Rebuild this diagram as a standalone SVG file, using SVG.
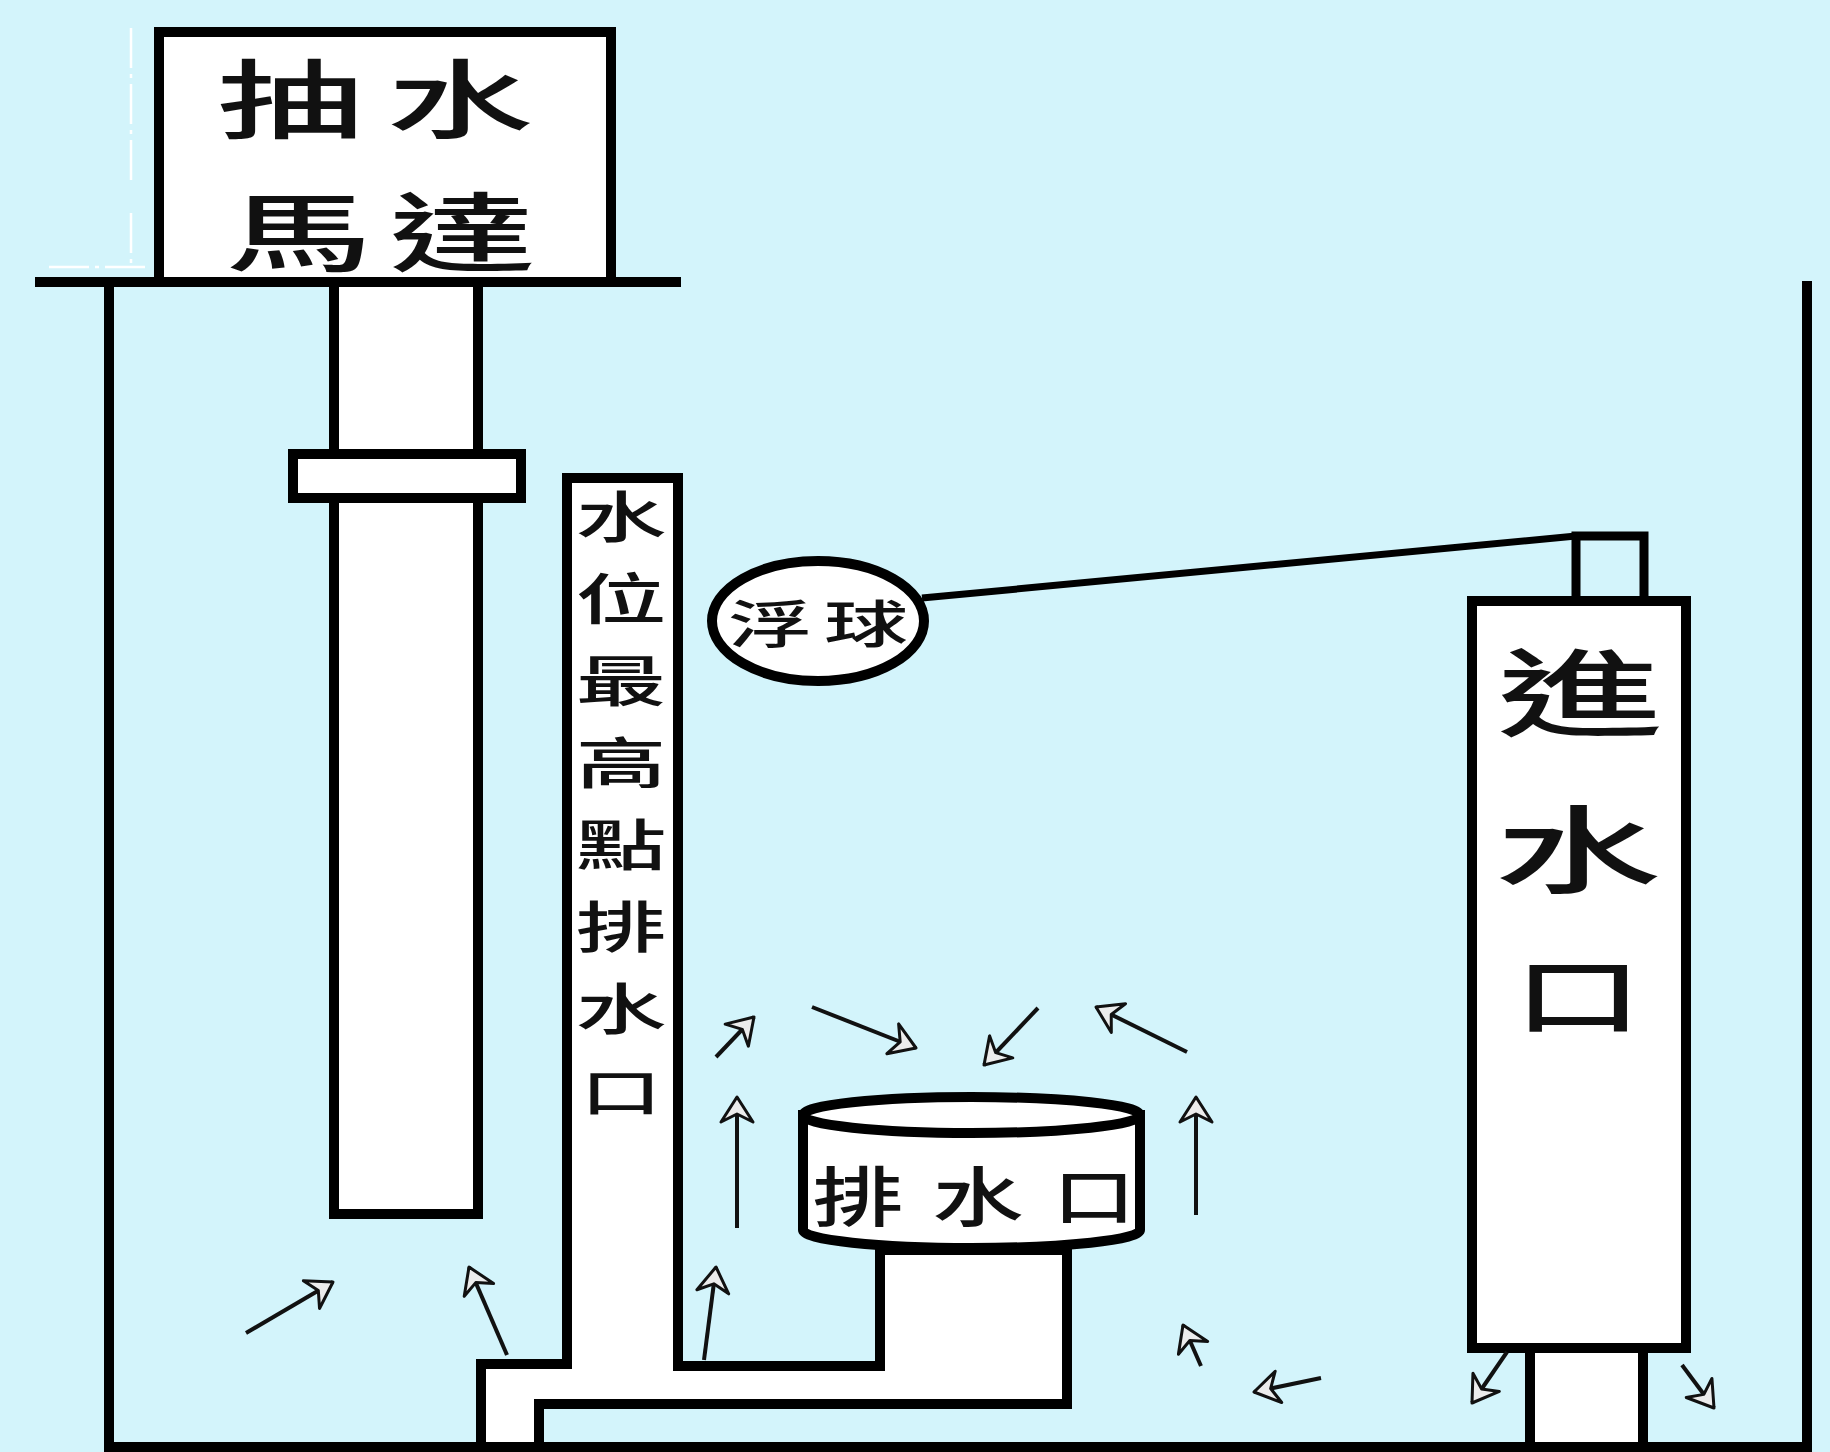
<svg xmlns="http://www.w3.org/2000/svg" width="1830" height="1452" viewBox="0 0 1830 1452">
  <style>
    .wall { fill: none; stroke: #000; stroke-width: 10; stroke-linecap: square; }
    .part { fill: #fff; stroke: #000; stroke-width: 10; stroke-linejoin: miter; }
    .thin { fill: none; stroke: #000; stroke-width: 9; }
    .lbl { font-family: "Noto Sans CJK TC", "Noto Sans CJK SC", sans-serif; font-weight: 500; fill: #111; text-anchor: middle; dominant-baseline: central; }
    .flow { fill: none; stroke: #111; stroke-width: 4; marker-end: url(#head); }
    .ghost { fill: none; stroke: #fff; stroke-width: 2.5; stroke-dasharray: 40 6 4 6; }
  </style>
  <defs>
    <marker id="head" viewBox="-30 -20 33 40" refX="0" refY="0" markerWidth="33" markerHeight="40" orient="auto" markerUnits="userSpaceOnUse">
      <path d="M0,0 L-25,-16 L-17,0 L-25,16 Z" fill="#ececec" stroke="#111" stroke-width="3" stroke-linejoin="round"/>
    </marker>
  </defs>

  <!-- water background -->
  <rect x="0" y="0" width="1830" height="1452" fill="#d3f4fb"/>

  <!-- faint leftover outline beside the motor -->
  <g id="ghost-lines">
    <path class="ghost" d="M131,28 V183 M131,213 V267 M49,267 H147"/>
  </g>

  <!-- tank walls -->
  <g id="tank">
    <path class="wall" d="M109,282 V1447 H1807 V286"/>
  </g>

  <!-- pump suction pipe -->
  <g id="pump-pipe">
    <rect class="part" x="334" y="280" width="144" height="934"/>
  </g>
  <g id="collar">
    <rect class="part" x="293" y="454" width="228" height="44" stroke-width="9"/>
  </g>

  <!-- pump motor on the lid -->
  <g id="motor">
    <rect class="part" x="159" y="32" width="452" height="250" stroke-width="9"/>
    <text class="lbl" font-size="86" transform="translate(290,95) scale(1.7,1)">抽</text>
    <text class="lbl" font-size="86" transform="translate(460,95) scale(1.7,1)">水</text>
    <text class="lbl" font-size="86" transform="translate(299,228) scale(1.7,1)">馬</text>
    <text class="lbl" font-size="86" transform="translate(462,228) scale(1.7,1)">達</text>
  </g>
  <g id="lid">
    <line class="wall" x1="40" y1="282" x2="676" y2="282" stroke-linecap="butt"/>
  </g>

  <!-- overflow pipe and outlet channel -->
  <g id="overflow-pipe">
    <polygon class="part" points="567,478 678,478 678,1366 880,1366 880,1250 1067,1250 1067,1404 539,1404 539,1447 481,1447 481,1364 567,1364"/>
    <text class="lbl" font-size="55" transform="translate(621,513) scale(1.65,1)">水</text>
    <text class="lbl" font-size="55" transform="translate(621,595) scale(1.65,1)">位</text>
    <text class="lbl" font-size="55" transform="translate(621,677) scale(1.65,1)">最</text>
    <text class="lbl" font-size="55" transform="translate(621,759) scale(1.65,1)">高</text>
    <text class="lbl" font-size="55" transform="translate(621,841) scale(1.65,1)">點</text>
    <text class="lbl" font-size="55" transform="translate(621,923) scale(1.65,1)">排</text>
    <text class="lbl" font-size="55" transform="translate(621,1005) scale(1.65,1)">水</text>
    <text class="lbl" font-size="50" transform="translate(621,1089) scale(1.6,1)">口</text>
  </g>

  <!-- drain cylinder -->
  <g id="drain">
    <path class="part" stroke-width="8" d="M803,1115 V1230 A168.5,18 0 0 0 1140,1230 V1115 Z"/>
    <ellipse class="part" stroke-width="8" cx="971.5" cy="1115" rx="168.5" ry="18"/>
    <text class="lbl" font-size="65" transform="translate(858,1193) scale(1.4,1)">排</text>
    <text class="lbl" font-size="65" transform="translate(978,1193) scale(1.4,1)">水</text>
    <text class="lbl" font-size="60" transform="translate(1094,1193) scale(1.35,1)">口</text>
  </g>

  <!-- inlet valve -->
  <g id="inlet">
    <rect class="part" x="1530" y="1348" width="113" height="99"/>
    <rect class="part" x="1472" y="601" width="214" height="747" stroke-width="11"/>
    <rect class="thin" x="1576" y="536" width="68" height="65" stroke-width="10"/>
    <text class="lbl" font-size="95" transform="translate(1580,688) scale(1.75,1)">進</text>
    <text class="lbl" font-size="95" transform="translate(1578,845) scale(1.75,1)">水</text>
    <text class="lbl" font-size="82" transform="translate(1578,990) scale(1.55,1)">口</text>
  </g>

  <!-- float ball -->
  <g id="float">
    <ellipse class="part" stroke-width="8" cx="818" cy="621" rx="106" ry="60"/>
    <text class="lbl" font-size="51" transform="translate(770,621) scale(1.65,1)">浮</text>
    <text class="lbl" font-size="51" transform="translate(866,621) scale(1.65,1)">球</text>
  </g>

  <!-- float arm and water-flow arrows -->
  <g id="connectors">
    <line x1="922" y1="598" x2="1576" y2="536" stroke="#000" stroke-width="7"/>
    <path class="flow" d="M716,1057 L754,1017"/>
    <path class="flow" d="M812,1007 L916,1048"/>
    <path class="flow" d="M1038,1008 L984,1065"/>
    <path class="flow" d="M1187,1052 L1096,1007"/>
    <path class="flow" d="M737,1228 L737,1097"/>
    <path class="flow" d="M1196,1215 L1196,1097"/>
    <path class="flow" d="M704,1360 L716,1267"/>
    <path class="flow" d="M1201,1366 L1183,1325"/>
    <path class="flow" d="M1321,1378 L1254,1392"/>
    <path class="flow" d="M1507,1352 L1472,1403"/>
    <path class="flow" d="M1682,1365 L1714,1408"/>
    <path class="flow" d="M246,1333 L333,1282"/>
    <path class="flow" d="M507,1355 L469,1267"/>
  </g>
</svg>
